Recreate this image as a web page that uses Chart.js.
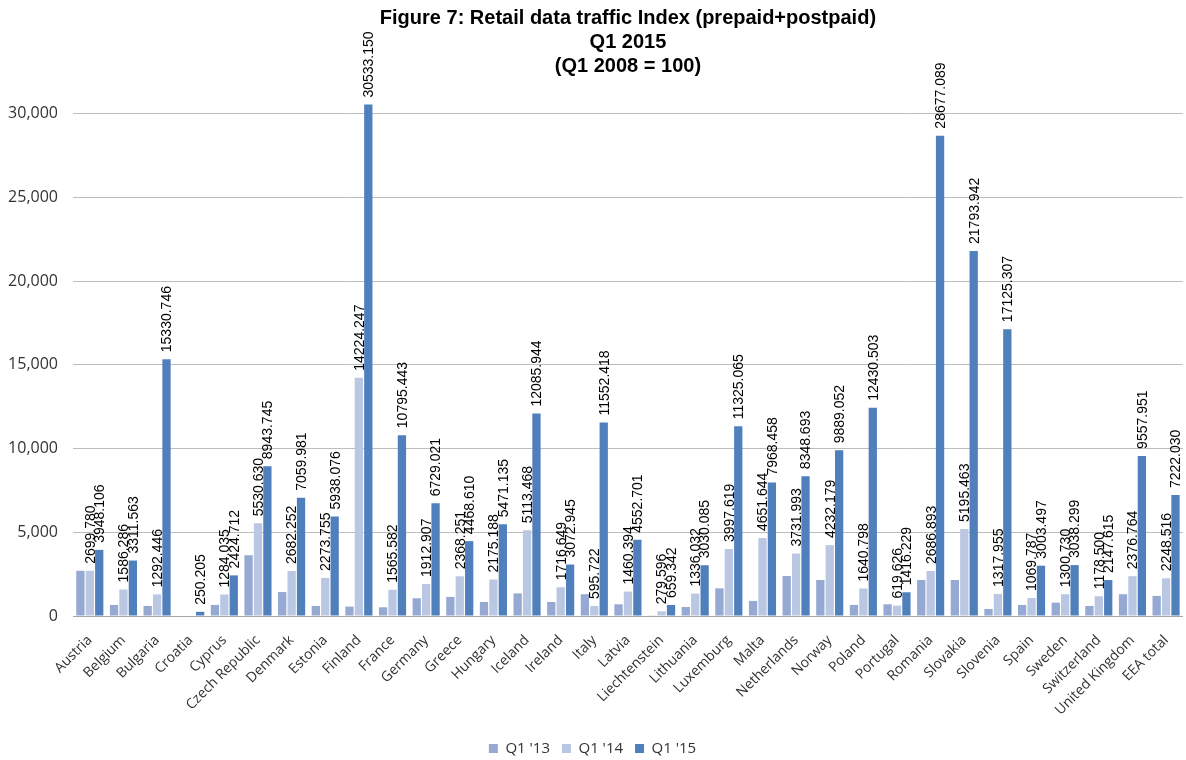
<!DOCTYPE html>
<html>
<head>
<meta charset="utf-8">
<script src="https://cdn.jsdelivr.net/npm/chart.js@4"></script>
<style>
  html, body { margin: 0; padding: 0; background: #fff; overflow: hidden; }
</style>
</head>
<body>
<canvas id="trafficChart" width="1186" height="760"></canvas>
<script>
const countries = [
    'Austria', 'Belgium', 'Bulgaria', 'Croatia', 'Cyprus', 'Czech Republic',
    'Denmark', 'Estonia', 'Finland', 'France', 'Germany', 'Greece', 'Hungary',
    'Iceland', 'Ireland', 'Italy', 'Latvia', 'Liechtenstein', 'Lithuania',
    'Luxemburg', 'Malta', 'Netherlands', 'Norway', 'Poland', 'Portugal',
    'Romania', 'Slovakia', 'Slovenia', 'Spain', 'Sweden', 'Switzerland',
    'United Kingdom', 'EEA total'
];

// Q1 '13 is not labelled in the source
const q1_13 = [
    2700, 660, 600, null, 660, 3630,
    1430, 600, 560, 520, 1060, 1140, 840,
    1350, 840, 1300, 700, 40, 540,
    1650, 900, 2390, 2150, 660, 700,
    2150, 2150, 420, 660, 800, 600,
    1300, 1200
];

const q1_14 = [
    2699.780, 1586.286, 1292.446, null, 1284.035, 5530.630,
    2682.252, 2273.755, 14224.247, 1565.582, 1912.907, 2368.251, 2175.188,
    5113.468, 1716.649, 595.722, 1460.394, 279.596, 1336.032,
    3997.619, 4651.644, 3731.993, 4232.179, 1640.798, 619.626,
    2686.893, 5195.463, 1317.955, 1069.787, 1300.730, 1178.500,
    2376.764, 2248.516
];

const q1_15 = [
    3948.106, 3311.563, 15330.746, 250.205, 2424.712, 8943.745,
    7059.981, 5938.076, 30533.150, 10795.443, 6729.021, 4468.610, 5471.135,
    12085.944, 3072.945, 11552.418, 4552.701, 659.342, 3030.085,
    11325.065, 7968.458, 8348.693, 9889.052, 12430.503, 1416.229,
    28677.089, 21793.942, 17125.307, 3003.497, 3038.299, 2147.615,
    9557.951, 7222.030
];

const seriesNames = ["Q1 '13", "Q1 '14", "Q1 '15"];
const yTicksMax = 30000;
const yAxisTop = 32000;

// vertical value labels above Q1 '14 and Q1 '15 bars
const barLabels = {
    id: 'bar_labels',
    afterDatasetsDraw: (chart) => {
        const ctx = chart.ctx;
        ctx.save();
        ctx.font = '14px "Liberation Sans", Arial, sans-serif';
        ctx.fillStyle = '#000000';
        ctx.textAlign = 'left';
        ctx.textBaseline = 'middle';
        [1, 2].forEach((di) => {
            const meta = chart.getDatasetMeta(di);
            meta.data.forEach((bar, i) => {
                const v = chart.data.datasets[di].data[i];
                if (v === null) return;
                ctx.save();
                ctx.translate(bar.x + 1, bar.y - 7);
                ctx.rotate(-Math.PI / 2);
                ctx.fillText(v.toFixed(3), 0, 0);
                ctx.restore();
            });
        });
        ctx.restore();
    }
};

const data = {
    labels: countries,
    datasets: [
        { label: seriesNames[0], data: q1_13, backgroundColor: '#95A9D2' },
        { label: seriesNames[1], data: q1_14, backgroundColor: '#BAC7E2' },
        { label: seriesNames[2], data: q1_15, backgroundColor: '#4F80BC' }
    ]
};

const config = {
    type: 'bar',
    data: data,
    plugins: [barLabels],
    options: {
        responsive: false,
        animation: false,
        datasets: {
            bar: { categoryPercentage: 0.84, barPercentage: 0.88 }
        },
        layout: {
            padding: { left: 0, right: 1, top: 0, bottom: -6 }
        },
        scales: {
            x: {
                grid: { display: false },
                border: { display: true, color: '#A6A6A6', width: 1 },
                ticks: {
                    autoSkip: false,
                    minRotation: 45,
                    maxRotation: 45,
                    padding: 8,
                    color: '#333333',
                    font: { family: '"Open Sans", sans-serif', size: 14 }
                },
                afterFit: (scale) => { scale.height = 113; }
            },
            y: {
                beginAtZero: true,
                grid: { color: '#BDBDBD', lineWidth: 1, drawTicks: false },
                border: { display: false },
                ticks: {
                    stepSize: 5000,
                    padding: 15,
                    color: '#333333',
                    font: { family: '"Open Sans", sans-serif', size: 16 }
                },
                afterBuildTicks: (scale) => {
                    scale.ticks = scale.ticks.filter(t => t.value <= yTicksMax);
                    scale.max = yAxisTop;
                },
                afterFit: (scale) => { scale.width = 73; }
            }
        },
        plugins: {
            title: {
                display: true,
                fullSize: false,
                text: [
                    'Figure 7: Retail data traffic Index (prepaid+postpaid)',
                    'Q1 2015',
                    '(Q1 2008 = 100)'
                ],
                color: '#000000',
                font: { family: '"Liberation Sans", Arial, sans-serif', size: 20, weight: 'bold', lineHeight: 1.2 },
                padding: { top: 6, bottom: 2 }
            },
            legend: {
                display: true,
                position: 'bottom',
                fullSize: true,
                labels: {
                    color: '#333333',
                    boxWidth: 9,
                    boxHeight: 9,
                    padding: 12,
                    font: { family: '"Open Sans", sans-serif', size: 15 }
                }
            },
            tooltip: { enabled: false }
        }
    }
};

const trafficChart = new Chart(
    document.getElementById('trafficChart'),
    config
);
</script>
</body>
</html>
